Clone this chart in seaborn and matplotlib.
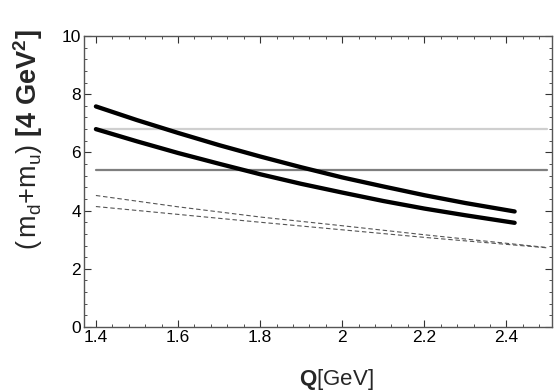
import matplotlib
matplotlib.use("Agg")
import matplotlib.pyplot as plt
import seaborn as sns
from matplotlib.ticker import MultipleLocator, FixedLocator

# ---- data ----
q_solid = [1.4, 1.5, 1.6, 1.7, 1.8, 1.9, 2.0, 2.1, 2.2, 2.3, 2.42]
upper_solid = [7.58, 7.11, 6.67, 6.25, 5.86, 5.49, 5.14, 4.83, 4.53, 4.26, 3.97]
lower_solid = [6.80, 6.38, 5.98, 5.61, 5.25, 4.92, 4.62, 4.33, 4.07, 3.84, 3.58]

q_dash = [1.4, 1.6, 1.8, 2.0, 2.2, 2.5]
upper_dash = [4.52, 4.13, 3.78, 3.48, 3.17, 2.73]
lower_dash = [4.14, 3.87, 3.60, 3.34, 3.08, 2.72]

q_flat = [1.4, 2.5]
light_level = [6.8, 6.8]
dark_level = [5.4, 5.4]

x_ticks = [1.4, 1.6, 1.8, 2.0, 2.2, 2.4]
x_tick_labels = ["1.4", "1.6", "1.8", "2", "2.2", "2.4"]
y_ticks = [0, 2, 4, 6, 8, 10]

sns.set_theme(style="white")
plt.rcParams["font.family"] = ["Liberation Sans", "DejaVu Sans"]
plt.rcParams["mathtext.fontset"] = "custom"
plt.rcParams["mathtext.rm"] = "Liberation Sans"
plt.rcParams["mathtext.bf"] = "Liberation Sans:bold"
plt.rcParams["mathtext.it"] = "Liberation Sans:italic"

fig = plt.figure(figsize=(5.57, 3.91), dpi=100)
ax = fig.add_axes([84 / 557, 1 - 327 / 391, (552 - 84) / 557, (327 - 36) / 391])

sns.lineplot(x=q_flat, y=light_level, ax=ax, color="#cfcfcf", lw=1.6)
sns.lineplot(x=q_flat, y=dark_level, ax=ax, color="#7f7f7f", lw=1.6)
sns.lineplot(x=q_dash, y=upper_dash, ax=ax, color="#555555", lw=0.8,
             linestyle=(0, (4, 2.5)))
sns.lineplot(x=q_dash, y=lower_dash, ax=ax, color="#555555", lw=0.8,
             linestyle=(0, (4, 2.5)))
sns.lineplot(x=q_solid, y=upper_solid, ax=ax, color="black", lw=3.1,
             solid_capstyle="round", solid_joinstyle="round")
sns.lineplot(x=q_solid, y=lower_solid, ax=ax, color="black", lw=3.1,
             solid_capstyle="round", solid_joinstyle="round")

ax.set_xlim(1.371, 2.511)
ax.set_ylim(0, 10)

ax.xaxis.set_major_locator(FixedLocator(x_ticks))
ax.set_xticklabels(x_tick_labels)
ax.xaxis.set_minor_locator(MultipleLocator(0.04))
ax.yaxis.set_major_locator(FixedLocator(y_ticks))
ax.yaxis.set_minor_locator(MultipleLocator(0.4))

ax.tick_params(which="both", direction="in", top=True, right=True, bottom=True, left=True,
               color="#333333", labelsize=12.5, labelcolor="black", pad=2)
ax.tick_params(which="major", length=5, width=0.8)
ax.tick_params(which="minor", length=2.5, width=0.6)
for s in ax.spines.values():
    s.set_color("#555555")
    s.set_linewidth(1.0)

ax.set_xlabel(r"$\mathbf{Q}$[GeV]", fontsize=16, va="center")
ax.xaxis.set_label_coords(0.54, -0.18)
ax.set_ylabel(r"$(\,\mathrm{m_d{+}m_u})\ \mathbf{[4\ GeV^2]}$", fontsize=19.5)
ax.yaxis.set_label_coords(-0.083, 0.645)

fig.savefig("out.png", dpi=100)
